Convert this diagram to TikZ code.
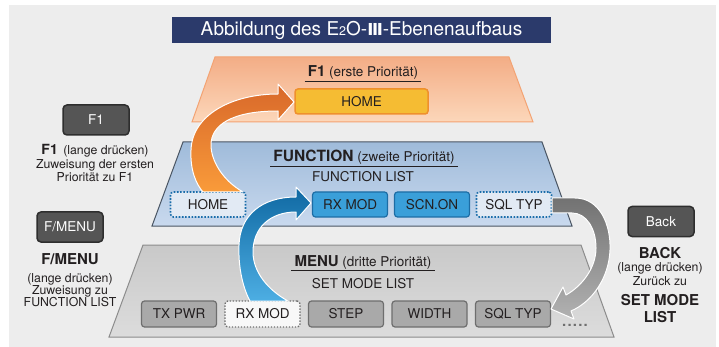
\documentclass[tikz,border=0pt]{standalone}
\usepackage{fontspec}
\setmainfont{TeX Gyre Heros}
\newfontfamily\dejavu{DejaVu Sans}
\usetikzlibrary{calc}
\definecolor{bg}{HTML}{EDEDED}
\definecolor{navy}{HTML}{2B3A6B}
\definecolor{txt}{HTML}{231F20}
\definecolor{orTop}{HTML}{F3AD86}
\definecolor{orBot}{HTML}{FCD7BA}
\definecolor{orEdge}{HTML}{F3A373}
\definecolor{blTop}{HTML}{9FBBDA}
\definecolor{blBot}{HTML}{C9D9EE}
\definecolor{blEdge}{HTML}{4A5563}
\definecolor{grTop}{HTML}{C9C9C9}
\definecolor{grBot}{HTML}{DCDCDC}
\definecolor{grEdge}{HTML}{8C8C8C}
\definecolor{yel}{HTML}{F5BC33}
\definecolor{yelEdge}{HTML}{EF902C}
\definecolor{bfill}{HTML}{3A9FD9}
\definecolor{bedge}{HTML}{1C6DA5}
\definecolor{dotblue}{HTML}{1A6DAA}
\definecolor{dotfill}{HTML}{E2EAF4}
\definecolor{gfill}{HTML}{A9A9A9}
\definecolor{gedge}{HTML}{6E6E6E}
\definecolor{keyfill}{HTML}{555555}
\definecolor{keyedge}{HTML}{2E2E2E}
\definecolor{arOrDark}{HTML}{D8682A}
\definecolor{arOrLight}{HTML}{F99B3A}
\definecolor{arBlDark}{HTML}{0F68A2}
\definecolor{arBlLight}{HTML}{4DAEE3}
\definecolor{arGrDark}{HTML}{727272}
\definecolor{arGrLight}{HTML}{B2B2B2}
\tikzset{
  hdrtext/.style={text=txt, inner sep=0pt, anchor=base, font=\fontsize{13.5}{15}\selectfont},
  uline/.style={draw=txt, line width=0.9pt},
  layerbox/.style={line width=1pt, line join=miter},
  itembox/.style={rounded corners=3pt, minimum width=75, minimum height=25, inner sep=0pt,
     text=txt, font=\fontsize{13.5}{15}\selectfont},
  yelbox/.style={itembox, fill=yel, draw=yelEdge, line width=1.5pt, minimum width=133},
  bluebox/.style={itembox, fill=bfill, draw=bedge, line width=1.2pt},
  bluedot/.style={itembox, fill=dotfill, draw=dotblue, line width=1.6pt, dash pattern=on 1.6pt off 1.6pt},
  graybox/.style={itembox, fill=gfill, draw=gedge, line width=1.2pt, minimum height=26},
  graydot/.style={itembox, fill=white!60!bg, draw=gedge, line width=1.4pt, dash pattern=on 1.4pt off 1.6pt, minimum height=26},
  keybtn/.style={draw=keyedge, fill=keyfill, line width=1.5pt, rounded corners=4pt,
     minimum width=66, minimum height=30, inner sep=0pt, text=white, font=\fontsize{13.5}{15}\selectfont},
  desc/.style={text=txt, inner sep=0pt, anchor=base, font=\fontsize{12.3}{14}\selectfont},
  descbig/.style={text=txt, inner sep=0pt, anchor=base, font=\fontsize{15}{17}\selectfont\bfseries},
  arrowshape/.style={draw=white, line width=1pt, line join=round}
}
\begin{document}
\begin{tikzpicture}[x=1pt,y=-1pt]
\useasboundingbox (0,0) rectangle (719,347);
\fill[white] (0,0) rectangle (719,347);
\fill[bg] (9,5) rectangle (716,347);

% title
\node[fill=navy, minimum width=379, minimum height=26, inner sep=0pt, text=white,
      font=\fontsize{19}{21}\selectfont] (title) at (361.5,30)
  {Abbildung des E{\fontsize{12.5}{12.5}\selectfont 2}O-{\dejavu\bfseries\fontsize{16.5}{18}\selectfont Ⅲ}-Ebenenaufbaus};

% layers
\path[layerbox, draw=orEdge, top color=orTop, bottom color=orBot]
  (215,57) -- (509,57) -- (533,122) -- (192,122) -- cycle;
\path[layerbox, draw=blEdge, top color=blTop, bottom color=blBot]
  (183,142) -- (542,142) -- (572,226) -- (152,226) -- cycle;
\path[layerbox, draw=grEdge, top color=grTop, bottom color=grBot]
  (143,245) -- (581,245) -- (614,337) -- (109,337) -- cycle;

% F1 layer
\node[hdrtext] (h1) at (363,76.5) {{\fontsize{15}{17}\selectfont\bfseries F1} (erste Priorität)};
\draw[uline] ($(h1.base west)+(-3,4.5)$) -- ($(h1.base east)+(3,4.5)$);
\node[yelbox] (home1) at (361.5,101.5) {HOME};

% FUNCTION layer
\node[hdrtext] (h2) at (364,162) {{\fontsize{15.5}{17}\selectfont\bfseries FUNCTION} (zweite Priorität)};
\draw[uline] ($(h2.base west)+(-3,4)$) -- ($(h2.base east)+(3,4)$);
\node[hdrtext] (fl) at (363,182) {FUNCTION LIST};
\node[bluedot] (fhome) at (208,204.5) {HOME};
\node[bluebox] (frx) at (350,204.5) {RX MOD};
\node[bluebox] (fscn) at (432,204.5) {SCN.ON};
\node[bluedot] (fsql) at (514,204.5) {SQL TYP};

% MENU layer
\node[hdrtext] (h3) at (363,266) {{\fontsize{15}{17}\selectfont\bfseries MENU} (dritte Priorität)};
\draw[uline] ($(h3.base west)+(-3,4.5)$) -- ($(h3.base east)+(3,4.5)$);
\node[hdrtext] (sml) at (363,288) {SET MODE LIST};
\node[graybox] (mtx) at (179,314) {TX PWR};
\node[graydot] (mrx) at (262.5,314) {RX MOD};
\node[graybox] (mstep) at (346,314) {STEP};
\node[graybox] (mwidth) at (429.5,314) {WIDTH};
\node[graybox] (msql) at (513,314) {SQL TYP};
\node[text=gedge, inner sep=0pt, anchor=base, font=\fontsize{15}{17}\selectfont\bfseries] (mdots) at (575,326)
  {.\kern1.2pt.\kern1.2pt.\kern1.2pt.\kern1.2pt.};

% arrows
\path[arrowshape, top color=arOrDark, bottom color=arOrLight]
  (294,102) -- (278,84) -- (278,94)
  .. controls (232,94) and (192,115) .. (191,150)
  .. controls (190,170) and (196,184) .. (203,192)
  -- (243,192)
  .. controls (222,180) and (211,160) .. (211,145)
  .. controls (211,125) and (232,111) .. (278,111)
  -- (278,120) -- cycle;
\path[arrowshape, top color=arBlDark, bottom color=arBlLight]
  (311,203) -- (296,187) -- (296,197)
  .. controls (262,197) and (240,215) .. (239,245)
  .. controls (238,270) and (244,290) .. (250,301)
  -- (288,301)
  .. controls (268,290) and (253,272) .. (253,252)
  .. controls (253,228) and (270,212) .. (296,212)
  -- (296,220) -- cycle;
\path[arrowshape, top color=arGrDark, bottom color=arGrLight]
  (552,198) -- (575,198)
  .. controls (600,198) and (611,225) .. (610,250)
  .. controls (609,278) and (592,302) .. (571,311)
  -- (574,319) -- (551,309) -- (563,287) -- (566,295)
  .. controls (582,286) and (596,268) .. (596,248)
  .. controls (596,228) and (586,213) .. (572,213)
  -- (552,213) -- cycle;

% left: F1 key
\node[keybtn] (kf1) at (96,120) {F1};
\node[desc] (d1a) at (95,155) {{\fontsize{14}{16}\selectfont\bfseries F1}\, (lange drücken)};
\node[desc] (d1b) at (95,169) {Zuweisung der ersten};
\node[desc] (d1c) at (95,182) {Priorität zu F1};

% left: F/MENU key
\node[keybtn] (kfm) at (70,227) {F/MENU};
\node[descbig] (d2a) at (70,264) {F/MENU};
\node[desc] (d2b) at (70,282) {(lange drücken)};
\node[desc] (d2c) at (70,294) {Zuweisung zu};
\node[desc] (d2d) at (70,306) {FUNCTION LIST};

% right: Back key
\node[keybtn] (kbk) at (661,221.5) {Back};
\node[descbig] (d3a) at (660,258) {BACK};
\node[desc] (d3b) at (660,271) {(lange drücken)};
\node[desc] (d3c) at (660,285) {Zurück zu};
\node[descbig] (d3d) at (660,305) {SET MODE};
\node[descbig] (d3e) at (660,322) {LIST};
\end{tikzpicture}
\end{document}
